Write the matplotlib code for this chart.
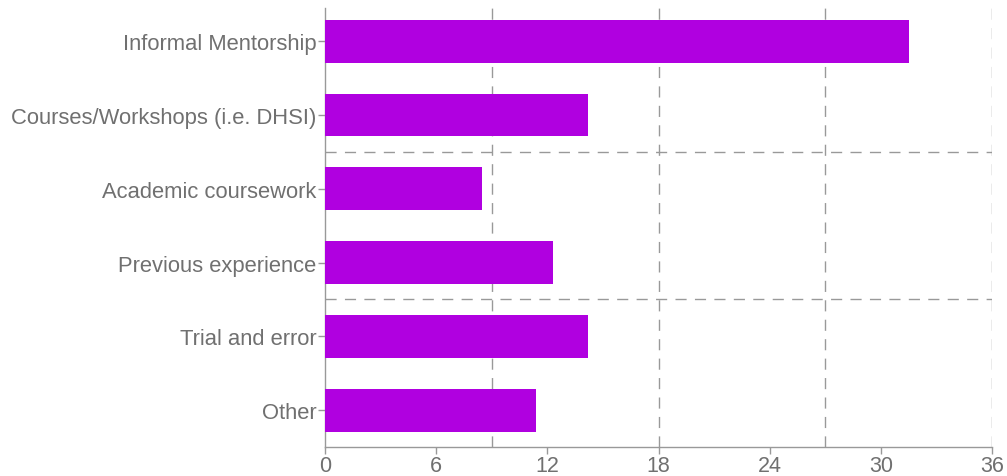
import matplotlib
matplotlib.use("Agg")
import matplotlib.pyplot as plt

# categories, top to bottom
labels = ["Informal Mentorship", "Courses/Workshops (i.e. DHSI)", "Academic coursework",
          "Previous experience", "Trial and error", "Other"]
values = [31.5, 14.2, 8.45, 12.3, 14.2, 11.4]
xticks = [0, 6, 12, 18, 24, 30, 36]
xgrid = [9, 18, 27, 36]
ygrid = [1.5, 3.5]

plt.rcParams['font.family'] = ['Liberation Sans', 'DejaVu Sans']

fig = plt.figure(figsize=(10.07, 4.77), dpi=100)
ax = fig.add_axes([325 / 1007, 29 / 477, 667 / 1007, 439 / 477])

ypos = list(range(len(labels)))
ax.barh(ypos, values, height=0.58, color="#b000e0", zorder=3)

# dashed grid
for g in xgrid:
    ax.axvline(g, color="#999999", lw=1, ls=(0, (8, 6)), zorder=1)
for g in ygrid:
    ax.axhline(g, color="#999999", lw=1, ls=(0, (8, 6)), zorder=1)

ax.set_xlim(0, 36)
ax.set_ylim(5.5, -0.45)
ax.set_xticks(xticks)
ax.set_yticks(ypos)
ax.set_yticklabels(labels)

for side in ["top", "right"]:
    ax.spines[side].set_visible(False)
for side in ["left", "bottom"]:
    ax.spines[side].set_color("#999999")
    ax.spines[side].set_linewidth(1)

ax.tick_params(axis="both", colors="#999999", length=5, width=1, labelcolor="#707070")
ax.tick_params(axis="y", pad=1, labelsize=15.8)
ax.tick_params(axis="x", pad=1, labelsize=15.5)

fig.savefig("out.png", dpi=100)
